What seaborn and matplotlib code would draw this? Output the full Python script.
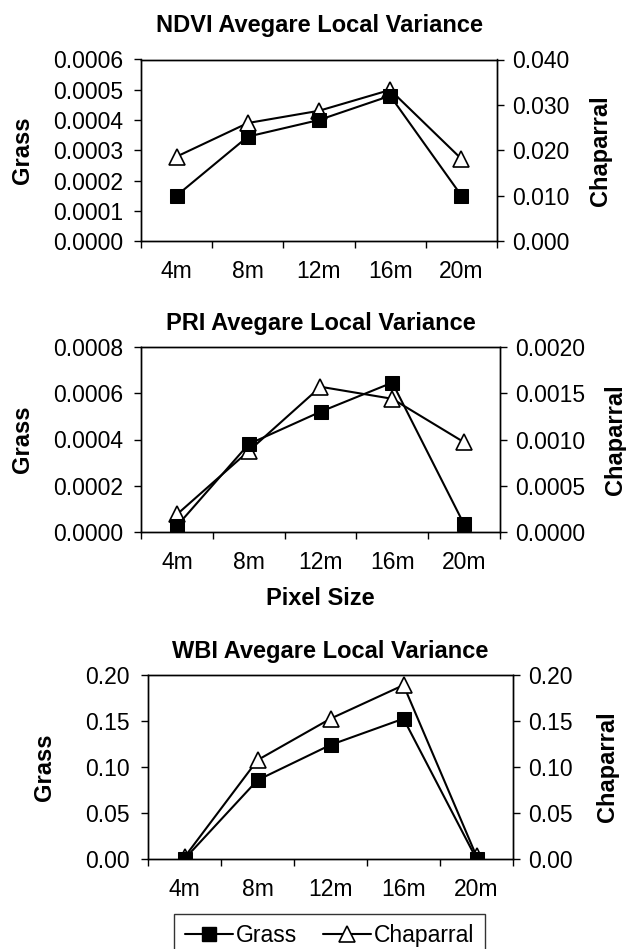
import numpy as np
import pandas as pd
import seaborn as sns
import matplotlib.pyplot as plt
from matplotlib.ticker import FormatStrFormatter, FixedLocator
from matplotlib.lines import Line2D

# pixel sizes (categories)
sizes = ["4m", "8m", "12m", "16m", "20m"]

# NDVI average local variance
ndvi_grass = [0.00015, 0.000345, 0.00040, 0.00048, 0.00015]
ndvi_chap = [0.0186, 0.0260, 0.0287, 0.0333, 0.0181]

# PRI average local variance
pri_grass = [0.000026, 0.00038, 0.00052, 0.000646, 0.000033]
pri_chap = [0.00019, 0.000875, 0.00157, 0.00144, 0.00097]

# WBI average local variance
wbi_grass = [0.0, 0.0857, 0.124, 0.1525, 0.0]
wbi_chap = [0.002, 0.1075, 0.1525, 0.189, 0.003]

sns.set_style("white")
plt.rcParams['font.family'] = ['Liberation Sans', 'DejaVu Sans']
plt.rcParams['text.color'] = 'black'
plt.rcParams['xtick.color'] = 'black'
plt.rcParams['ytick.color'] = 'black'
plt.rcParams['axes.labelcolor'] = 'black'

W, H = 626, 949
fig = plt.figure(figsize=(W / 100, H / 100), dpi=100)

TICK = 16.5
LAB = 17


def px_axes(left, right, top, bottom):
    return fig.add_axes([left / W, 1 - bottom / H, (right - left) / W, (bottom - top) / H])


panels = [
    dict(title="NDVI Avegare Local Variance", grass=ndvi_grass, chap=ndvi_chap,
         box=(141, 497, 59.5, 241), gl=(0, 0.0006, 0.0001), gf="%.4f",
         cl=(0, 0.040, 0.010), cf="%.3f", pad=20, glx=22, clx=601, xlabel=None),
    dict(title="PRI Avegare Local Variance", grass=pri_grass, chap=pri_chap,
         box=(141, 500, 347, 532), gl=(0, 0.0008, 0.0002), gf="%.4f",
         cl=(0, 0.0020, 0.0005), cf="%.4f", pad=12, glx=22, clx=616, xlabel="Pixel Size"),
    dict(title="WBI Avegare Local Variance", grass=wbi_grass, chap=wbi_chap,
         box=(148, 513, 675, 859), gl=(0, 0.20, 0.05), gf="%.2f",
         cl=(0, 0.20, 0.05), cf="%.2f", pad=12, glx=44, clx=607, xlabel=None),
]

for p in panels:
    left, right, top, bottom = p["box"]
    ax = px_axes(left, right, top, bottom)
    ax2 = ax.twinx()

    df = pd.DataFrame({"size": sizes, "Grass": p["grass"], "Chaparral": p["chap"]})
    sns.lineplot(data=df, x="size", y="Chaparral", ax=ax2, sort=False, color="black",
                 linewidth=1.5, marker="^", markersize=11, markerfacecolor="white",
                 markeredgecolor="black", markeredgewidth=1.2)
    sns.lineplot(data=df, x="size", y="Grass", ax=ax, sort=False, color="black",
                 linewidth=1.5, marker="s", markersize=10.5, markerfacecolor="black",
                 markeredgecolor="black")
    ax.set_zorder(ax2.get_zorder() + 1)
    ax.patch.set_visible(False)

    ax.set_xlim(-0.5, 4.5)
    lo, hi, st = p["gl"]
    ax.set_ylim(lo, hi)
    ax.set_yticks(np.arange(lo, hi + st / 2, st))
    ax.yaxis.set_major_formatter(FormatStrFormatter(p["gf"]))
    lo, hi, st = p["cl"]
    ax2.set_ylim(lo, hi)
    ax2.set_yticks(np.arange(lo, hi + st / 2, st))
    ax2.yaxis.set_major_formatter(FormatStrFormatter(p["cf"]))

    ax.xaxis.set_minor_locator(FixedLocator(np.arange(-0.5, 5, 1)))
    ax.tick_params(axis="x", which="major", length=0, pad=14, labelsize=TICK)
    ax.tick_params(axis="x", which="minor", length=5, width=1, direction="out", bottom=True)
    ax.tick_params(axis="y", length=5, width=1, direction="out", left=True, labelsize=TICK, pad=8)
    ax2.tick_params(axis="y", length=5, width=1, direction="out", right=True, labelsize=TICK, pad=6)

    for a in (ax, ax2):
        for s in a.spines.values():
            s.set_color("black")
            s.set_linewidth(1)

    ax.set_title(p["title"], fontsize=LAB, fontweight="bold", pad=p["pad"])
    ax.set_ylabel("Grass", fontsize=LAB, fontweight="bold")
    ax2.set_ylabel("Chaparral", fontsize=LAB, fontweight="bold")
    ax.yaxis.label.set_va("center")
    ax2.yaxis.label.set_va("center")
    mid = (top + bottom) / 2
    ax.yaxis.set_label_coords((p["glx"] - left) / (right - left), (bottom - mid) / (bottom - top))
    ax2.yaxis.set_label_coords((p["clx"] - left) / (right - left), (bottom - mid) / (bottom - top))
    if p["xlabel"]:
        ax.set_xlabel(p["xlabel"], fontsize=LAB, fontweight="bold", labelpad=9)
    else:
        ax.set_xlabel("")

handles = [
    Line2D([], [], color="black", linewidth=1.5, marker="s", markersize=10.5,
           markerfacecolor="black", markeredgecolor="black"),
    Line2D([], [], color="black", linewidth=1.5, marker="^", markersize=11,
           markerfacecolor="white", markeredgecolor="black", markeredgewidth=1.2),
]
leg = fig.legend(handles, ["Grass", "Chaparral"], loc="upper center",
                 bbox_to_anchor=(329.5 / W, 1 - 914 / H), ncol=2, fontsize=TICK,
                 frameon=True, fancybox=False, edgecolor="black", handlelength=2.1,
                 handletextpad=0.15, columnspacing=1.1, borderpad=0.45, borderaxespad=0)
leg.get_frame().set_linewidth(1)

fig.savefig("out.png", dpi=100)
